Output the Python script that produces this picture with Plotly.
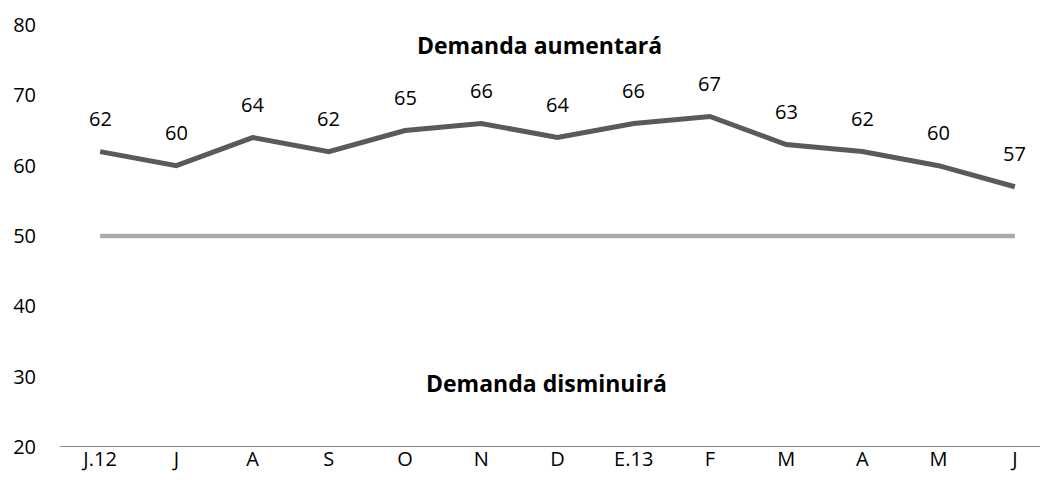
import plotly.graph_objects as go

categories = ["J.12", "J", "A", "S", "O", "N", "D", "E.13", "F", "M", "A", "M", "J"]
values = [62, 60, 64, 62, 65, 66, 64, 66, 67, 63, 62, 60, 57]
threshold = [50] * len(categories)
y_ticks = [20, 30, 40, 50, 60, 70, 80]

xs = list(range(len(categories)))
FONT = "Open Sans"

fig = go.Figure()
fig.add_trace(go.Scatter(x=xs, y=threshold, mode="lines",
                         line=dict(color="#ababab", width=4.5), hoverinfo="skip"))
fig.add_trace(go.Scatter(x=xs, y=values, mode="lines",
                         line=dict(color="#5a5a5a", width=5), hoverinfo="skip"))

for x, v in zip(xs, values):
    fig.add_annotation(x=x, y=v, text=str(v), showarrow=False, yshift=33,
                       font=dict(family=FONT, size=20, color="#000000"))

fig.add_annotation(x=5.76, y=77.2, text="<b>Demanda aumentará</b>", showarrow=False,
                   font=dict(family=FONT, size=23, color="#000000"))
fig.add_annotation(x=5.86, y=29.1, text="<b>Demanda disminuirá</b>", showarrow=False,
                   font=dict(family=FONT, size=23, color="#000000"))

fig.update_layout(
    width=1048, height=495,
    margin=dict(l=54, r=0, t=17, b=56, autoexpand=False),
    paper_bgcolor="white", plot_bgcolor="white",
    showlegend=False,
    font=dict(family=FONT, size=20, color="#000000"),
)
fig.update_xaxes(range=[-0.5, 12.54], tickmode="array", tickvals=xs, ticktext=categories,
                 showgrid=False, zeroline=False, showline=False, ticks="", ticklen=0,
                 automargin=False, ticklabelstandoff=-2,
                 tickfont=dict(family=FONT, size=20, color="#000000"))
fig.update_yaxes(range=[20, 80], tickmode="array", tickvals=y_ticks,
                 showgrid=False, zeroline=False, showline=False, ticks="",
                 automargin=False, ticklabelstandoff=25,
                 tickfont=dict(family=FONT, size=20, color="#000000"))
fig.add_shape(type="line", xref="paper", yref="y", x0=-0.002, x1=1, y0=20, y1=20,
              line=dict(color="#868686", width=2))

fig.write_html("out.html")
